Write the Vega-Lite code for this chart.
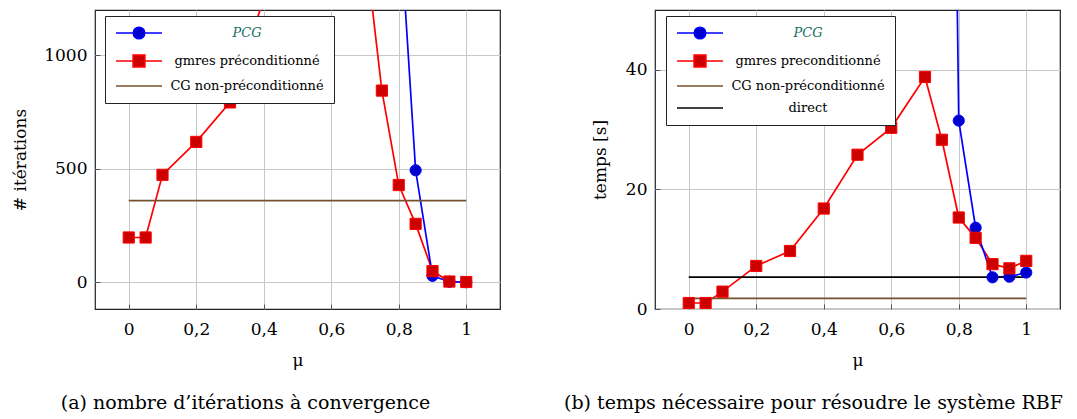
{
  "$schema": "https://vega.github.io/schema/vega-lite/v6.json",
  "background": "white",
  "padding": {"left": 11, "top": 9, "right": 18, "bottom": 5},
  "config": {
    "font": "DejaVu Serif",
    "view": {"stroke": "#222222", "strokeWidth": 1.2},
    "axis": {
      "labelFont": "DejaVu Serif", "labelFontSize": 17, "labelColor": "black",
      "titleFont": "DejaVu Serif", "titleFontSize": 17, "titleFontWeight": "normal", "titleColor": "black",
      "gridColor": "#c8c8c8", "gridWidth": 1, "domain": false,
      "tickColor": "#555555", "tickSize": -5, "labelPadding": 13
    },
    "legend": {"labelFont": "DejaVu Serif"},
    "title": {"font": "DejaVu Serif", "fontSize": 19, "fontWeight": "normal", "color": "black"}
  },
  "datasets": {
    "iter": [
      {"mu": 0, "method": "gmres préconditionné", "val": 198},
      {"mu": 0.05, "method": "gmres préconditionné", "val": 198},
      {"mu": 0.1, "method": "gmres préconditionné", "val": 474},
      {"mu": 0.2, "method": "gmres préconditionné", "val": 619},
      {"mu": 0.3, "method": "gmres préconditionné", "val": 793},
      {"mu": 0.4, "method": "gmres préconditionné", "val": 1250},
      {"mu": 0.5, "method": "gmres préconditionné", "val": 1350},
      {"mu": 0.6, "method": "gmres préconditionné", "val": 1420},
      {"mu": 0.7, "method": "gmres préconditionné", "val": 1488},
      {"mu": 0.75, "method": "gmres préconditionné", "val": 845},
      {"mu": 0.8, "method": "gmres préconditionné", "val": 429},
      {"mu": 0.85, "method": "gmres préconditionné", "val": 258},
      {"mu": 0.9, "method": "gmres préconditionné", "val": 50},
      {"mu": 0.95, "method": "gmres préconditionné", "val": 4},
      {"mu": 1, "method": "gmres préconditionné", "val": 2},
      {"mu": 0.75, "method": "PCG", "val": 3000},
      {"mu": 0.8, "method": "PCG", "val": 1660},
      {"mu": 0.85, "method": "PCG", "val": 494},
      {"mu": 0.9, "method": "PCG", "val": 29},
      {"mu": 0.95, "method": "PCG", "val": 3},
      {"mu": 1, "method": "PCG", "val": 1},
      {"mu": 0, "method": "CG non-préconditionné", "val": 360},
      {"mu": 1, "method": "CG non-préconditionné", "val": 360}
    ],
    "temps": [
      {"mu": 0, "method": "gmres preconditionné", "val": 1.0},
      {"mu": 0.05, "method": "gmres preconditionné", "val": 1.0},
      {"mu": 0.1, "method": "gmres preconditionné", "val": 2.9},
      {"mu": 0.2, "method": "gmres preconditionné", "val": 7.2},
      {"mu": 0.3, "method": "gmres preconditionné", "val": 9.7},
      {"mu": 0.4, "method": "gmres preconditionné", "val": 16.8},
      {"mu": 0.5, "method": "gmres preconditionné", "val": 25.8},
      {"mu": 0.6, "method": "gmres preconditionné", "val": 30.3},
      {"mu": 0.7, "method": "gmres preconditionné", "val": 38.8},
      {"mu": 0.75, "method": "gmres preconditionné", "val": 28.3},
      {"mu": 0.8, "method": "gmres preconditionné", "val": 15.3},
      {"mu": 0.85, "method": "gmres preconditionné", "val": 11.9},
      {"mu": 0.9, "method": "gmres preconditionné", "val": 7.5},
      {"mu": 0.95, "method": "gmres preconditionné", "val": 6.8},
      {"mu": 1, "method": "gmres preconditionné", "val": 8.05},
      {"mu": 0.75, "method": "PCG", "val": 250},
      {"mu": 0.8, "method": "PCG", "val": 31.5},
      {"mu": 0.85, "method": "PCG", "val": 13.6},
      {"mu": 0.9, "method": "PCG", "val": 5.3},
      {"mu": 0.95, "method": "PCG", "val": 5.4},
      {"mu": 1, "method": "PCG", "val": 6.1},
      {"mu": 0, "method": "CG non-préconditionné", "val": 1.77},
      {"mu": 1, "method": "CG non-préconditionné", "val": 1.77},
      {"mu": 0, "method": "direct", "val": 5.33},
      {"mu": 1, "method": "direct", "val": 5.33}
    ]
  },
  "bounds": "flush",
  "spacing": 155,
  "resolve": {
    "scale": {"color": "independent", "x": "independent", "y": "independent"},
    "legend": {"color": "independent"}
  },
  "hconcat": [
    {
      "width": 405, "height": 299,
      "title": {"text": "(a) nombre d’itérations à convergence", "orient": "bottom", "anchor": "middle", "frame": "group", "dx": -52, "offset": 26},
      "data": {"name": "iter"},
      "encoding": {
        "x": {"field": "mu", "type": "quantitative", "title": "μ",
          "scale": {"domain": [-0.1, 1.1], "nice": false, "zero": false},
          "axis": {"values": [0, 0.2, 0.4, 0.6, 0.8, 1], "labelExpr": "replace(format(datum.value, '~g'), '.', ',')", "labelPadding": 17, "titlePadding": 15}},
        "y": {"field": "val", "type": "quantitative", "title": "# itérations",
          "scale": {"domain": [-117, 1200], "nice": false, "zero": false},
          "axis": {"values": [0, 500, 1000], "labelExpr": "format(datum.value, 'd')", "titlePadding": 14}}
      },
      "layer": [
        {
          "mark": {"type": "line", "strokeWidth": 1.7, "clip": true},
          "encoding": {
            "color": {"field": "method", "type": "nominal",
              "scale": {"domain": ["PCG", "gmres préconditionné", "CG non-préconditionné"], "range": ["#0000ff", "#ff0000", "#74502c"]},
              "legend": {
                "title": null, "orient": "none", "legendX": 10, "legendY": 6, "direction": "vertical",
                "strokeColor": "#222222", "fillColor": "white", "padding": 10,
                "symbolSize": 144, "symbolStrokeWidth": 1.7, "symbolOffset": 17,
                "labelFont": "DejaVu Serif", "labelFontSize": 13, "labelColor": "black",
                "labelAlign": "center", "labelOffset": 101, "labelLimit": 400, "rowPadding": 8,
                "encode": {
                  "symbols": {"update": {
                    "shape": {"signal": "datum.value === 'PCG' ? 'M-3.83,0H-0.9M0.9,0H3.83M0.95,0A0.95,0.95,0,1,1,-0.95,0A0.95,0.95,0,1,1,0.95,0Z' : (datum.value === 'gmres préconditionné' ? 'M-3.83,0H-0.9M0.9,0H3.83M-0.97,-0.97H0.97V0.97H-0.97Z' : 'M-3.83,0H3.83')"},
                    "fill": {"signal": "datum.value === 'PCG' ? '#0000cc' : (datum.value === 'gmres préconditionné' ? '#cc0000' : 'transparent')"},
                    "fillOpacity": {"value": 1}
                  }},
                  "labels": {"update": {
                    "font": {"value": "DejaVu Serif"},
                    "fill": {"signal": "datum.value === 'PCG' ? '#1a6e62' : 'black'"},
                    "fontStyle": {"signal": "datum.value === 'PCG' ? 'italic' : 'normal'"}
                  }}
                }
              }}
          }
        },
        {
          "transform": [{"filter": "datum.method === 'PCG'"}],
          "mark": {"type": "point", "shape": "circle", "filled": true, "fill": "#0000cc", "stroke": "#0000ff", "strokeWidth": 1, "size": 125, "opacity": 1, "clip": true}
        },
        {
          "transform": [{"filter": "datum.method === 'gmres préconditionné'"}],
          "mark": {"type": "point", "shape": "square", "filled": true, "fill": "#cc0000", "stroke": "#ff0000", "strokeWidth": 1, "size": 125, "opacity": 1, "clip": true}
        }
      ]
    },
    {
      "width": 405, "height": 299,
      "title": {"text": "(b) temps nécessaire pour résoudre le système RBF", "orient": "bottom", "anchor": "middle", "frame": "group", "dx": -44, "offset": 26},
      "data": {"name": "temps"},
      "encoding": {
        "x": {"field": "mu", "type": "quantitative", "title": "μ",
          "scale": {"domain": [-0.1, 1.1], "nice": false, "zero": false},
          "axis": {"values": [0, 0.2, 0.4, 0.6, 0.8, 1], "labelExpr": "replace(format(datum.value, '~g'), '.', ',')", "labelPadding": 17, "titlePadding": 15}},
        "y": {"field": "val", "type": "quantitative", "title": "temps [s]",
          "scale": {"domain": [0, 50], "nice": false, "zero": false},
          "axis": {"values": [0, 20, 40], "labelExpr": "format(datum.value, 'd')", "titlePadding": 16}}
      },
      "layer": [
        {
          "mark": {"type": "line", "strokeWidth": 1.7, "clip": true},
          "encoding": {
            "color": {"field": "method", "type": "nominal",
              "scale": {"domain": ["PCG", "gmres preconditionné", "CG non-préconditionné", "direct"], "range": ["#0000ff", "#ff0000", "#74502c", "#000000"]},
              "legend": {
                "title": null, "orient": "none", "legendX": 11, "legendY": 6, "direction": "vertical",
                "strokeColor": "#222222", "fillColor": "white", "padding": 10,
                "symbolSize": 144, "symbolStrokeWidth": 1.7, "symbolOffset": 17,
                "labelFont": "DejaVu Serif", "labelFontSize": 13, "labelColor": "black",
                "labelAlign": "center", "labelOffset": 101, "labelLimit": 400, "rowPadding": 8,
                "encode": {
                  "symbols": {"update": {
                    "shape": {"signal": "datum.value === 'PCG' ? 'M-3.83,0H-0.9M0.9,0H3.83M0.95,0A0.95,0.95,0,1,1,-0.95,0A0.95,0.95,0,1,1,0.95,0Z' : (datum.value === 'gmres preconditionné' ? 'M-3.83,0H-0.9M0.9,0H3.83M-0.97,-0.97H0.97V0.97H-0.97Z' : 'M-3.83,0H3.83')"},
                    "fill": {"signal": "datum.value === 'PCG' ? '#0000cc' : (datum.value === 'gmres preconditionné' ? '#cc0000' : 'transparent')"},
                    "fillOpacity": {"value": 1}
                  }},
                  "labels": {"update": {
                    "font": {"value": "DejaVu Serif"},
                    "fill": {"signal": "datum.value === 'PCG' ? '#1a6e62' : 'black'"},
                    "fontStyle": {"signal": "datum.value === 'PCG' ? 'italic' : 'normal'"}
                  }}
                }
              }}
          }
        },
        {
          "transform": [{"filter": "datum.method === 'PCG'"}],
          "mark": {"type": "point", "shape": "circle", "filled": true, "fill": "#0000cc", "stroke": "#0000ff", "strokeWidth": 1, "size": 125, "opacity": 1, "clip": true}
        },
        {
          "transform": [{"filter": "datum.method === 'gmres preconditionné'"}],
          "mark": {"type": "point", "shape": "square", "filled": true, "fill": "#cc0000", "stroke": "#ff0000", "strokeWidth": 1, "size": 125, "opacity": 1, "clip": true}
        }
      ]
    }
  ]
}
